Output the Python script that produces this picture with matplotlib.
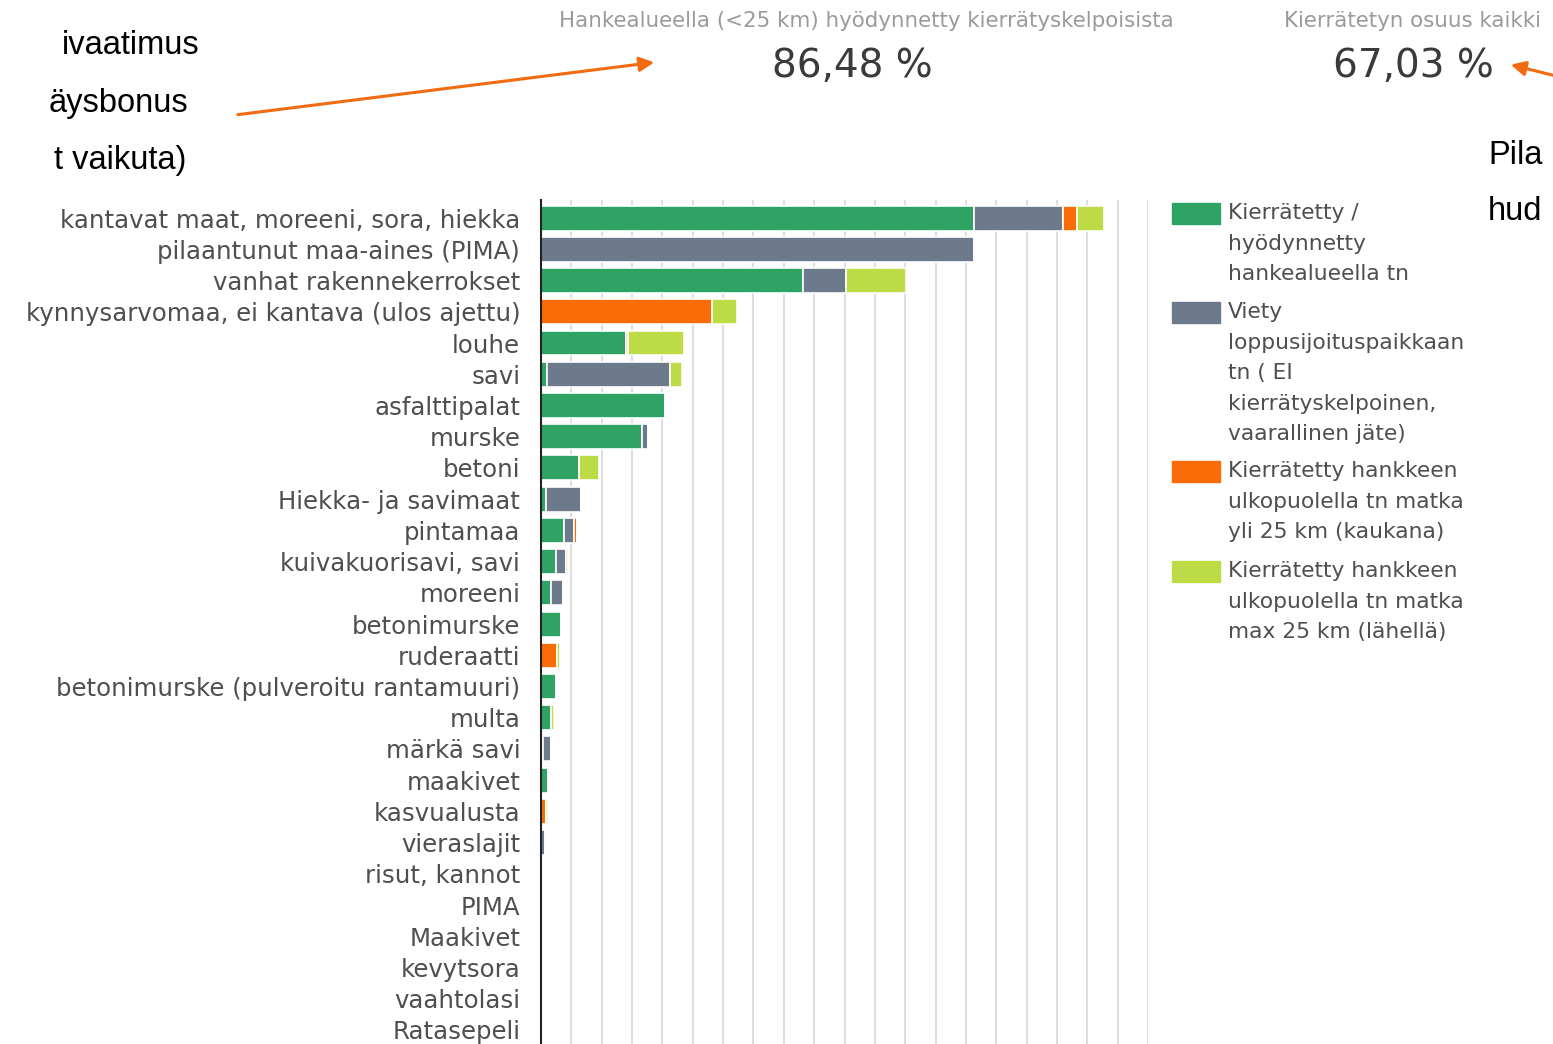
import numpy as np
import matplotlib
matplotlib.use("Agg")
import matplotlib.pyplot as plt
from matplotlib.patches import Rectangle, FancyArrowPatch

# luokat (ylhäältä alas)
categories = ["kantavat maat, moreeni, sora, hiekka", "pilaantunut maa-aines (PIMA)",
              "vanhat rakennekerrokset", "kynnysarvomaa, ei kantava (ulos ajettu)",
              "louhe", "savi", "asfalttipalat", "murske", "betoni", "Hiekka- ja savimaat",
              "pintamaa", "kuivakuorisavi, savi", "moreeni", "betonimurske", "ruderaatti",
              "betonimurske (pulveroitu rantamuuri)", "multa", "märkä savi", "maakivet",
              "kasvualusta", "vieraslajit", "risut, kannot", "PIMA", "Maakivet",
              "kevytsora", "vaahtolasi", "Ratasepeli"]

# määrät (tuhatta tn, arvioitu kuvasta)
hyodynnetty = [14.27, 0, 8.63, 0, 2.80, 0.20, 4.09, 3.33, 1.25, 0.16, 0.76, 0.49, 0.33,
               0.66, 0, 0.49, 0.33, 0.07, 0.23, 0, 0, 0, 0, 0, 0, 0, 0]
viety = [2.93, 14.27, 1.42, 0, 0, 4.05, 0, 0.20, 0, 1.15, 0.33, 0.33, 0.40,
         0, 0, 0, 0, 0.26, 0, 0, 0.13, 0, 0, 0, 0, 0, 0]
kaukana = [0.46, 0, 0, 5.63, 0.07, 0, 0, 0.03, 0, 0, 0.10, 0, 0,
           0, 0.53, 0, 0, 0, 0, 0.16, 0.03, 0, 0, 0, 0, 0, 0]
lahella = [0.89, 0, 1.98, 0.82, 1.85, 0.40, 0, 0, 0.66, 0, 0, 0.07, 0,
           0, 0.10, 0, 0.10, 0, 0, 0.07, 0, 0.03, 0, 0, 0, 0, 0]

series = [hyodynnetty, viety, kaukana, lahella]
colors = ["#2ea363", "#6d7a8c", "#fa6c05", "#bcdb45"]
legend_labels = ["Kierrätetty /\nhyödynnetty\nhankealueella tn",
                 "Viety\nloppusijoituspaikkaan\ntn ( EI\nkierrätyskelpoinen,\nvaarallinen jäte)",
                 "Kierrätetty hankkeen\nulkopuolella tn matka\nyli 25 km (kaukana)",
                 "Kierrätetty hankkeen\nulkopuolella tn matka\nmax 25 km (lähellä)"]

W, H = 1553, 1044
fig = plt.figure(figsize=(W / 100, H / 100), dpi=100)

def fx(x):
    return x / W

def fy(y):
    return 1 - y / H

FONT = "DejaVu Sans"
ax = fig.add_axes([fx(541), 0, fx(1148) - fx(541), fy(200)])
y = np.arange(len(categories))
left = np.zeros(len(categories))
for vals, c in zip(series, colors):
    ax.barh(y, vals, left=left, height=0.8, color=c, edgecolor="white", linewidth=1.2, zorder=3)
    left += np.array(vals)

ax.set_xlim(0, 20)
ax.set_ylim(26.45, -0.58)
ax.set_xticks(np.arange(1, 21))
ax.xaxis.grid(True, color="#dedede", linewidth=1.5, zorder=0)
ax.tick_params(axis="x", length=0, labelbottom=False)
ax.tick_params(axis="y", length=0, pad=15)
ax.set_yticks(y)
ax.set_yticklabels(categories, fontsize=17.6, color="#4f4f4f", family=FONT)
for s in ["top", "right", "bottom"]:
    ax.spines[s].set_visible(False)
ax.spines["left"].set_color("#222222")
ax.spines["left"].set_linewidth(1.5)
ax.spines["left"].set_zorder(5)

# selite
legend_y = [203, 302, 461, 561]
for ly, c, lab in zip(legend_y, colors, legend_labels):
    fig.patches.append(Rectangle((fx(1172), fy(ly + 21)), fx(48), 21 / H,
                                 transform=fig.transFigure, color=c))
    fig.text(fx(1228), fy(ly), lab, fontsize=15.7, color="#4f4f4f", family=FONT,
             va="top", ha="left", linespacing=1.66)

# tunnusluvut
fig.text(fx(866), fy(21), "Hankealueella (<25 km) hyödynnetty kierrätyskelpoisista",
         fontsize=15.4, color="#9a9a9a", family=FONT, ha="center", va="center")
fig.text(fx(852), fy(66), "86,48 %", fontsize=28, color="#3a3a3a", family=FONT,
         ha="center", va="center")
fig.text(fx(1413), fy(21), "Kierrätetyn osuus kaikki", fontsize=15.4, color="#9a9a9a",
         family=FONT, ha="center", va="center")
fig.text(fx(1413), fy(66), "67,03 %", fontsize=28, color="#3a3a3a", family=FONT,
         ha="center", va="center")

# diatekstit
ARIAL = "Liberation Sans"
for txt, xr, yy in [("ivaatimus", 199, 46), ("äysbonus", 188, 103), ("t vaikuta)", 186, 161)]:
    fig.text(fx(xr), fy(yy), txt, fontsize=23.5, family=ARIAL, color="black",
             ha="right", va="center")
for txt, yy in [("Pila", 155), ("hud", 212)]:
    fig.text(fx(1488), fy(yy), txt, fontsize=23.5, family=ARIAL, color="black",
             ha="left", va="center")

# nuolet
for p0, p1 in [((235, 115), (657, 62)), ((1560, 77), (1508, 64))]:
    arr = FancyArrowPatch((fx(p0[0]), fy(p0[1])), (fx(p1[0]), fy(p1[1])),
                          transform=fig.transFigure, arrowstyle="-|>", mutation_scale=22,
                          color="#f26b10", linewidth=2.2)
    fig.patches.append(arr)

fig.savefig("out.png", dpi=100)
